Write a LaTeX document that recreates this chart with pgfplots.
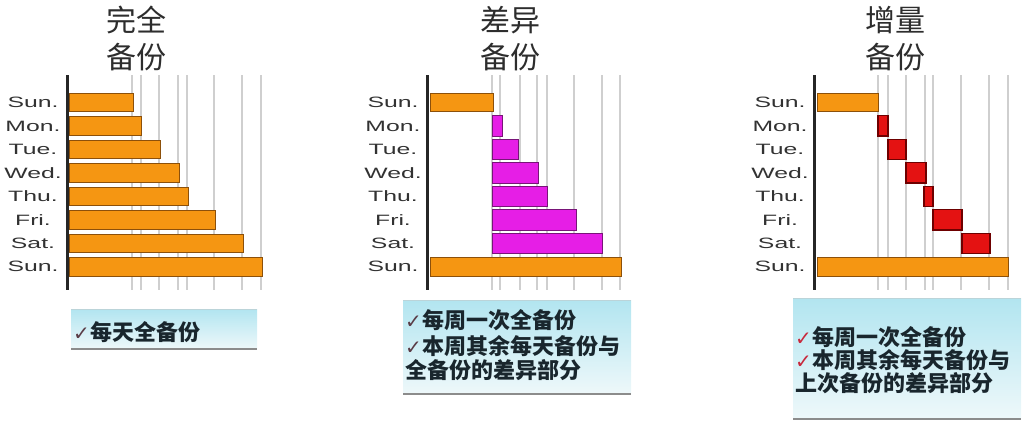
\documentclass[border=0pt]{standalone}
\usepackage{fontspec}
\setmainfont{Liberation Sans}
\newfontfamily\cjk{Noto Sans CJK SC}
\newfontfamily\sym{DejaVu Sans}
\usepackage{graphicx}
\usepackage{pgfplots}
\pgfplotsset{compat=1.18}
\definecolor{obar}{RGB}{245,150,18}
\definecolor{oedge}{RGB}{140,80,10}
\definecolor{pbar}{RGB}{230,30,230}
\definecolor{pedge}{RGB}{120,20,120}
\definecolor{rbar}{RGB}{228,18,18}
\definecolor{redge}{RGB}{110,0,0}
\definecolor{lab}{RGB}{50,50,50}
\definecolor{ttl}{RGB}{45,45,45}
\definecolor{boxtop}{RGB}{178,229,240}
\definecolor{boxbot}{RGB}{238,248,250}
\definecolor{boxtxt}{RGB}{25,38,45}
\definecolor{chkA}{RGB}{90,60,70}
\definecolor{chkB}{RGB}{200,40,60}

\newcommand\wide[1]{\scalebox{1.65}[1]{#1}}
\newcommand\rect[5]{\addplot[#5] coordinates {(#1,#3) (#2,#3) (#2,#4) (#1,#4)} --cycle;}
\newcommand\chk[1]{{\sym\fontsize{20}{20}\selectfont\color{#1}✓}\hspace{1pt}}

\pgfplotsset{
  panel/.style={
    scale only axis, width=205pt, height=215pt,
    xmin=0, xmax=205, ymin=-1.17, ymax=7.99, y dir=reverse,
    axis lines=left,
    x axis line style={draw=none},
    y axis line style={-, line width=3pt, black!85},
    xmajorgrids, grid style={line width=1.4pt, black!19},
    xticklabels={}, major tick length=0pt,
    ytick={0,...,7},
    yticklabels={\wide{Sun.},\wide{Mon.},\wide{Tue.},\wide{Wed.},\wide{Thu.},\wide{Fri.},\wide{Sat.},\wide{Sun.}},
    yticklabel style={anchor=center, xshift=-34pt, font=\fontsize{15}{15}\selectfont, text=lab},
    anchor=south west,
  },
  ob/.style={fill=obar, draw=oedge, line width=0.8pt},
  pb/.style={fill=pbar, draw=pedge, line width=0.8pt},
  rb/.style={fill=rbar, draw=redge, line width=1.2pt},
}

\begin{document}
\begin{tikzpicture}
\path[use as bounding box] (0,0) rectangle (1024pt,421pt);

% Panel 1: full backup
\begin{axis}[panel, at={(67pt,131pt)}, xtick={65,74,92,111,120,147,175,194}]
\rect{2}{66}{-0.39}{0.39}{ob}
\rect{2}{74}{0.61}{1.39}{ob}
\rect{2}{93}{1.61}{2.39}{ob}
\rect{2}{112}{2.61}{3.39}{ob}
\rect{2}{121}{3.61}{4.39}{ob}
\rect{2}{148}{4.61}{5.39}{ob}
\rect{2}{176}{5.61}{6.39}{ob}
\rect{2}{195}{6.61}{7.39}{ob}
\end{axis}

% Panel 2: differential backup
\begin{axis}[panel, at={(427pt,131pt)}, xtick={65,73,93,110,120,147,175,193}]
\rect{3}{66}{-0.39}{0.39}{ob}
\rect{65}{75}{0.57}{1.43}{pb}
\rect{65}{91}{1.57}{2.43}{pb}
\rect{65}{111}{2.57}{3.43}{pb}
\rect{65}{120}{3.57}{4.43}{pb}
\rect{65}{149}{4.57}{5.43}{pb}
\rect{65}{175}{5.57}{6.43}{pb}
\rect{3}{194}{6.61}{7.39}{ob}
\end{axis}

% Panel 3: incremental backup
\begin{axis}[panel, at={(814pt,131pt)}, xtick={64,74,92,111,119,147,175,194}]
\rect{3}{64}{-0.39}{0.39}{ob}
\rect{64}{74}{0.57}{1.43}{rb}
\rect{74}{92}{1.57}{2.43}{rb}
\rect{92}{112}{2.57}{3.43}{rb}
\rect{110}{119}{3.57}{4.43}{rb}
\rect{119}{148}{4.57}{5.43}{rb}
\rect{148}{176}{5.57}{6.43}{rb}
\rect{3}{194}{6.61}{7.39}{ob}
\end{axis}

% titles
\node[font=\cjk\fontsize{30}{37}\selectfont, text=ttl, align=center] at (136pt,382.5pt) {完全\\备份};
\node[font=\cjk\fontsize{30}{37}\selectfont, text=ttl, align=center] at (510pt,382.5pt) {差异\\备份};
\node[font=\cjk\fontsize{30}{37}\selectfont, text=ttl, align=center] at (895pt,382.5pt) {增量\\备份};

% boxes
\shade[top color=boxtop, bottom color=boxbot] (71pt,72pt) rectangle (257pt,112pt);
\draw[line width=0.6pt, boxtop!80!black!60] (71pt,112pt) -- (257pt,112pt);
\draw[line width=2.5pt, black!45] (71pt,72pt) -- (257pt,72pt);

\shade[top color=boxtop, bottom color=boxbot] (403pt,27pt) rectangle (631pt,121pt);
\draw[line width=0.6pt, boxtop!80!black!60] (403pt,121pt) -- (631pt,121pt);
\draw[line width=2.5pt, black!45] (403pt,27pt) -- (631pt,27pt);

\shade[top color=boxtop, bottom color=boxbot] (793pt,3pt) rectangle (1021pt,123pt);
\draw[line width=0.6pt, boxtop!80!black!60] (793pt,123pt) -- (1021pt,123pt);
\draw[line width=2.5pt, black!45] (793pt,2pt) -- (1021pt,2pt);

\begin{scope}[every node/.style={anchor=west, inner sep=0pt, font=\cjk\bfseries\fontsize{22}{22}\selectfont, text=boxtxt}]
\node at (73pt,89pt) {\chk{chkA}每天全备份};
\node at (405pt,101pt) {\chk{chkA}每周一次全备份};
\node at (405pt,75pt) {\chk{chkA}本周其余每天备份与};
\node at (405pt,51pt) {全备份的差异部分};
\node at (795pt,84pt) {\chk{chkB}每周一次全备份};
\node at (795pt,61pt) {\chk{chkB}本周其余每天备份与};
\node at (795pt,38pt) {上次备份的差异部分};
\end{scope}
\end{tikzpicture}
\end{document}
